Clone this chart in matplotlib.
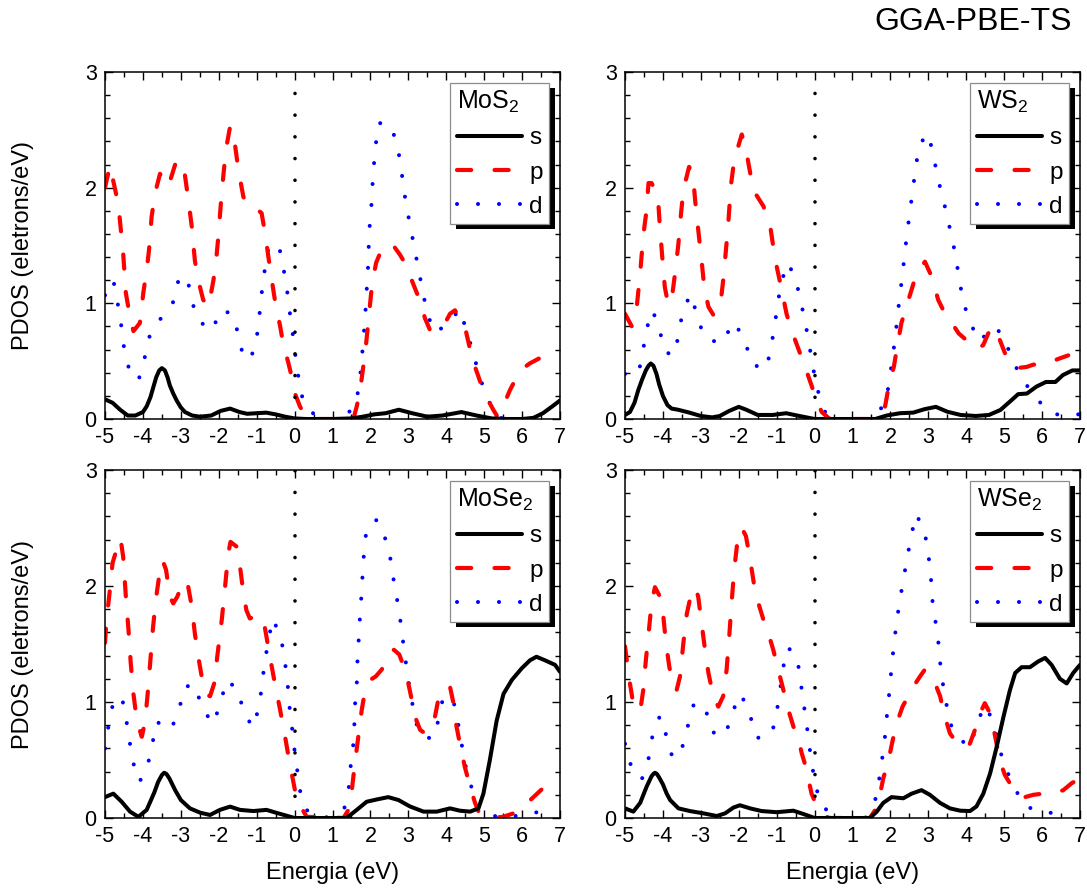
import matplotlib
matplotlib.use("Agg")
import matplotlib.pyplot as plt
import matplotlib.patheffects as pe
from matplotlib.ticker import MultipleLocator

plt.rcParams['font.family'] = ['Liberation Sans', 'DejaVu Sans']
plt.rcParams['mathtext.fontset'] = 'custom'
plt.rcParams['mathtext.rm'] = 'Liberation Sans'
plt.rcParams['mathtext.it'] = 'Liberation Sans:italic'
plt.rcParams['mathtext.default'] = 'regular'
plt.rcParams['axes.unicode_minus'] = False

# ---------------- data: (energy eV, PDOS electrons/eV) ----------------
materials = ['MoS$_2$', 'WS$_2$', 'MoSe$_2$', 'WSe$_2$']
orbitals = ['s', 'p', 'd']
method = 'GGA-PBE-TS'

mos2_s = [(-5.0, 0.17), (-4.8, 0.14), (-4.6, 0.08), (-4.4, 0.03), (-4.2, 0.03), (-4.0, 0.06),
          (-3.9, 0.11), (-3.8, 0.19), (-3.73, 0.27), (-3.65, 0.36), (-3.57, 0.42), (-3.5, 0.44),
          (-3.42, 0.42), (-3.35, 0.36), (-3.29, 0.29), (-3.2, 0.22), (-3.11, 0.16), (-3.0, 0.10),
          (-2.89, 0.06), (-2.7, 0.03), (-2.5, 0.02), (-2.2, 0.03), (-1.95, 0.07),
          (-1.7, 0.09), (-1.45, 0.06), (-1.25, 0.045), (-1.0, 0.05), (-0.75, 0.055), (-0.5, 0.04),
          (-0.25, 0.02), (0.0, 0.005), (0.3, 0.0), (1.0, 0.0), (1.5, 0.005), (1.8, 0.02),
          (2.1, 0.04), (2.4, 0.05), (2.75, 0.08), (3.1, 0.05), (3.5, 0.02), (3.9, 0.03),
          (4.4, 0.06), (4.8, 0.03), (5.2, 0.005), (5.6, 0.0), (6.0, 0.0), (6.3, 0.01),
          (6.55, 0.05), (6.8, 0.11), (7.0, 0.16)]
mos2_p = [(-5.0, 2.0), (-4.87, 2.19), (-4.65, 1.86), (-4.52, 1.43), (-4.45, 1.09), (-4.34, 0.88),
          (-4.25, 0.76), (-4.08, 0.83), (-3.99, 1.09), (-3.9, 1.29), (-3.84, 1.46), (-3.77, 1.75),
          (-3.68, 1.95), (-3.55, 2.12), (-3.42, 2.07), (-3.33, 2.01), (-3.15, 2.2), (-3.02, 2.24),
          (-2.91, 2.15), (-2.8, 1.89), (-2.71, 1.66), (-2.63, 1.37), (-2.54, 1.20), (-2.41, 1.03),
          (-2.27, 0.97), (-2.14, 1.2), (-2.07, 1.37), (-2.01, 1.58), (-1.95, 1.84), (-1.88, 2.10),
          (-1.81, 2.33), (-1.70, 2.53), (-1.60, 2.44), (-1.48, 2.15), (-1.35, 1.92), (-1.22, 1.84),
          (-1.09, 1.84), (-0.87, 1.78), (-0.78, 1.61), (-0.69, 1.40), (-0.60, 1.2), (-0.52, 1.03),
          (-0.38, 0.80), (-0.30, 0.65), (-0.16, 0.48), (-0.08, 0.37), (0.01, 0.22), (0.14, 0.11),
          (0.32, 0.0), (1.55, 0.0), (1.64, 0.11), (1.73, 0.25), (1.81, 0.45), (1.88, 0.63),
          (1.95, 0.86), (2.02, 1.09), (2.08, 1.23), (2.15, 1.35), (2.25, 1.43), (2.38, 1.48),
          (2.56, 1.52), (2.78, 1.42), (2.96, 1.32), (3.09, 1.2), (3.26, 1.06), (3.35, 0.97),
          (3.44, 0.87), (3.57, 0.77), (3.70, 0.76), (3.92, 0.80), (4.10, 0.91), (4.23, 0.94),
          (4.36, 0.87), (4.49, 0.8), (4.63, 0.60), (4.76, 0.45), (4.93, 0.29), (5.11, 0.16),
          (5.24, 0.08), (5.35, 0.02), (5.50, 0.11), (5.68, 0.25), (5.95, 0.42), (6.20, 0.48),
          (6.60, 0.55)]
mos2_d = [(-5.0, 1.07), (-4.78, 1.20), (-4.67, 1.01), (-4.58, 0.83), (-4.51, 0.64), (-4.38, 0.45),
          (-4.12, 0.33), (-3.96, 0.52), (-3.83, 0.71), (-3.55, 0.86), (-3.22, 0.99), (-3.09, 1.18),
          (-2.85, 1.24), (-2.72, 1.05), (-2.59, 0.87), (-2.20, 0.76), (-1.91, 0.95), (-1.60, 0.89),
          (-1.47, 0.70), (-1.33, 0.51), (-1.06, 0.58), (-0.97, 0.77), (-0.91, 0.95), (-0.85, 1.14),
          (-0.77, 1.33), (-0.67, 1.52), (-0.38, 1.45), (-0.27, 1.26), (-0.18, 1.07), (-0.11, 0.88),
          (-0.03, 0.69), (0.04, 0.50), (0.12, 0.32), (0.24, 0.13), (0.64, 0.0), (1.26, 0.0),
          (1.61, 0.12), (1.71, 0.31), (1.77, 0.50), (1.81, 0.68), (1.86, 0.87), (1.89, 1.06),
          (1.93, 1.25), (1.95, 1.44), (1.97, 1.63), (2.02, 1.81), (2.05, 2.00), (2.09, 2.19),
          (2.14, 2.37), (2.22, 2.56), (2.54, 2.54), (2.72, 2.35), (2.81, 2.17), (2.88, 1.98),
          (2.98, 1.79), (3.09, 1.60), (3.20, 1.41), (3.26, 1.31), (3.37, 1.12), (3.48, 0.94),
          (3.67, 0.75), (4.03, 0.81), (4.35, 0.95), (4.54, 0.76), (4.71, 0.57), (4.86, 0.39),
          (5.05, 0.20), (5.35, 0.01), (5.95, 0.0), (6.52, 0.0)]

ws2_s = [(-5.0, 0.035), (-4.87, 0.06), (-4.75, 0.14), (-4.65, 0.25), (-4.55, 0.34), (-4.45, 0.42),
         (-4.38, 0.46), (-4.32, 0.48), (-4.25, 0.46), (-4.17, 0.39), (-4.1, 0.30), (-4.0, 0.2),
         (-3.88, 0.12), (-3.77, 0.09), (-3.6, 0.08),
         (-3.3, 0.055), (-3.0, 0.026), (-2.7, 0.014), (-2.5, 0.026), (-2.25, 0.07), (-2.0, 0.105),
         (-1.8, 0.08), (-1.5, 0.035), (-1.1, 0.035), (-0.75, 0.05), (-0.4, 0.026), (0.0, 0.0),
         (0.5, 0.0), (1.0, 0.0), (1.6, 0.0), (1.9, 0.03), (2.25, 0.05), (2.6, 0.055), (2.9, 0.085),
         (3.2, 0.105), (3.5, 0.063), (3.85, 0.035), (4.25, 0.026), (4.6, 0.035), (4.9, 0.078),
         (5.15, 0.15), (5.37, 0.215), (5.6, 0.22), (5.85, 0.28), (6.1, 0.32), (6.35, 0.32),
         (6.55, 0.38), (6.8, 0.42), (7.0, 0.42)]
ws2_p = [(-5.0, 0.91), (-4.82, 0.80), (-4.69, 0.97), (-4.6, 1.26), (-4.52, 1.58), (-4.43, 1.81),
         (-4.38, 2.04), (-4.30, 2.04), (-4.16, 1.95), (-4.12, 1.86), (-4.08, 1.66), (-4.01, 1.37),
         (-3.95, 1.14), (-3.86, 0.99), (-3.77, 1.03), (-3.68, 1.26), (-3.59, 1.52), (-3.53, 1.75),
         (-3.46, 1.98), (-3.31, 2.18), (-3.21, 2.12), (-3.15, 1.89), (-3.07, 1.64), (-2.98, 1.37),
         (-2.91, 1.14), (-2.80, 0.97), (-2.67, 0.90), (-2.49, 0.97), (-2.40, 1.23), (-2.33, 1.49),
         (-2.27, 1.72), (-2.21, 2.01), (-2.12, 2.24), (-1.92, 2.46), (-1.81, 2.33), (-1.70, 2.13),
         (-1.62, 1.98), (-1.35, 1.84), (-1.18, 1.69), (-1.09, 1.49), (-1.0, 1.32), (-0.87, 1.12),
         (-0.74, 0.91), (-0.60, 0.76), (-0.42, 0.60), (-0.25, 0.45), (-0.08, 0.29), (0.05, 0.16),
         (0.19, 0.06), (0.4, 0.0), (1.64, 0.0), (1.74, 0.035), (1.86, 0.11), (1.97, 0.31),
         (2.09, 0.45), (2.18, 0.63), (2.29, 0.83), (2.42, 0.97), (2.56, 1.12), (2.69, 1.26),
         (2.91, 1.36), (3.09, 1.23), (3.26, 1.03), (3.44, 0.91), (3.62, 0.83), (3.80, 0.74),
         (4.01, 0.68), (4.27, 0.60), (4.45, 0.64), (4.58, 0.74), (4.71, 0.80), (4.89, 0.68),
         (5.02, 0.57), (5.15, 0.48), (5.33, 0.44), (5.59, 0.45), (5.77, 0.47), (6.12, 0.48),
         (6.43, 0.52), (6.69, 0.55)]
ws2_d = [(-5.0, 0.39), (-4.65, 0.39), (-4.53, 0.57), (-4.45, 0.76), (-4.27, 0.94), (-4.08, 0.76),
         (-3.95, 0.58), (-3.70, 0.55), (-3.58, 0.74), (-3.48, 0.93), (-3.27, 1.08), (-3.09, 0.89),
         (-2.92, 0.71), (-2.48, 0.65), (-2.11, 0.84), (-1.83, 0.66), (-1.63, 0.47), (-1.28, 0.43),
         (-1.15, 0.61), (-1.06, 0.80), (-0.97, 0.99), (-0.89, 1.18), (-0.69, 1.35), (-0.47, 1.17),
         (-0.34, 0.98), (-0.22, 0.79), (-0.12, 0.60), (-0.02, 0.41), (0.10, 0.23), (0.30, 0.04),
         (0.67, 0.0), (1.46, 0.0), (1.84, 0.12), (1.97, 0.31), (2.04, 0.50), (2.12, 0.68),
         (2.18, 0.87), (2.25, 1.07), (2.32, 1.25), (2.38, 1.44), (2.45, 1.63), (2.52, 1.81),
         (2.60, 2.00), (2.67, 2.19), (2.78, 2.38), (3.0, 2.47), (3.13, 2.28), (3.25, 2.09),
         (3.38, 1.90), (3.47, 1.80), (3.59, 1.61), (3.71, 1.43), (3.80, 1.24), (3.90, 1.05),
         (4.06, 0.86), (4.35, 0.67), (4.71, 0.80), (5.0, 0.72), (5.18, 0.53), (5.49, 0.34),
         (5.88, 0.16), (6.37, 0.04), (7.0, 0.04)]

mose2_s = [(-5.0, 0.18), (-4.78, 0.21), (-4.56, 0.14), (-4.34, 0.055), (-4.12, 0.01), (-3.9, 0.07),
           (-3.7, 0.22), (-3.6, 0.31), (-3.5, 0.37), (-3.44, 0.39), (-3.38, 0.38), (-3.3, 0.34),
           (-3.15, 0.24), (-3.0, 0.155),
           (-2.76, 0.083), (-2.49, 0.046), (-2.23, 0.026), (-1.97, 0.07), (-1.70, 0.098),
           (-1.44, 0.07), (-1.09, 0.06), (-0.74, 0.07), (-0.43, 0.04), (0.0, 0.0), (0.5, 0.0),
           (1.0, 0.0), (1.37, 0.0), (1.64, 0.07), (1.90, 0.14), (2.17, 0.16), (2.47, 0.18),
           (2.74, 0.155), (3.04, 0.10), (3.40, 0.055), (3.75, 0.055), (4.10, 0.083), (4.36, 0.063),
           (4.63, 0.055), (4.85, 0.083), (4.98, 0.21), (5.15, 0.5), (5.33, 0.84), (5.51, 1.07),
           (5.73, 1.19), (5.99, 1.29), (6.21, 1.36), (6.38, 1.39), (6.6, 1.36), (6.87, 1.32),
           (7.0, 1.26)]
mose2_p = [(-5.0, 1.51), (-4.96, 1.71), (-4.89, 1.91), (-4.80, 2.2), (-4.67, 2.34), (-4.59, 2.41),
           (-4.52, 2.25), (-4.45, 1.91), (-4.38, 1.62), (-4.32, 1.33), (-4.25, 1.07), (-4.16, 0.84),
           (-4.03, 0.70), (-3.95, 0.82), (-3.88, 1.05), (-3.81, 1.33), (-3.74, 1.62), (-3.66, 1.88),
           (-3.57, 2.09), (-3.48, 2.22), (-3.39, 2.14), (-3.29, 1.91), (-3.20, 1.85), (-3.09, 1.91),
           (-2.93, 2.05), (-2.82, 2.02), (-2.71, 1.82), (-2.63, 1.59), (-2.54, 1.39), (-2.45, 1.22),
           (-2.32, 1.06), (-2.23, 1.05), (-2.12, 1.16), (-2.04, 1.39), (-1.92, 1.71), (-1.84, 1.97),
           (-1.75, 2.28), (-1.69, 2.38), (-1.53, 2.34), (-1.44, 2.17), (-1.35, 1.94), (-1.27, 1.79),
           (-1.18, 1.72), (-0.96, 1.75), (-0.82, 1.71), (-0.74, 1.56), (-0.65, 1.39), (-0.52, 1.16),
           (-0.38, 0.93), (-0.25, 0.70), (-0.16, 0.53), (-0.08, 0.39), (0.01, 0.24), (0.14, 0.11),
           (0.32, 0.01), (1.29, 0.0), (1.42, 0.07), (1.51, 0.24), (1.59, 0.47), (1.68, 0.70),
           (1.77, 0.93), (1.86, 1.10), (1.99, 1.19), (2.14, 1.22), (2.30, 1.28), (2.47, 1.42),
           (2.62, 1.45), (2.76, 1.41), (2.91, 1.28), (3.00, 1.16), (3.09, 1.02), (3.18, 0.87),
           (3.31, 0.76), (3.44, 0.73), (3.59, 0.76), (3.70, 0.87), (3.79, 1.02), (3.92, 1.12),
           (4.10, 1.13), (4.19, 0.99), (4.27, 0.79), (4.36, 0.64), (4.49, 0.44), (4.63, 0.27),
           (4.76, 0.13), (4.87, 0.04), (5.15, 0.0), (5.5, 0.01), (5.77, 0.04), (6.03, 0.1),
           (6.30, 0.18), (6.56, 0.26), (6.82, 0.30), (6.9, 0.31)]
mose2_d = [(-5.0, 0.60), (-4.91, 0.79), (-4.80, 0.97), (-4.56, 1.05), (-4.45, 0.87), (-4.36, 0.68),
           (-4.27, 0.49), (-4.09, 0.31), (-3.87, 0.46), (-3.75, 0.64), (-3.64, 0.83), (-3.26, 0.76),
           (-3.04, 0.94), (-2.91, 1.13), (-2.62, 1.15), (-2.45, 0.95), (-2.14, 0.81), (-1.95, 1.0),
           (-1.79, 1.19), (-1.48, 1.10), (-1.35, 0.91), (-1.09, 0.78), (-0.93, 0.97), (-0.86, 1.15),
           (-0.79, 1.34), (-0.69, 1.53), (-0.58, 1.72), (-0.36, 1.56), (-0.27, 1.38), (-0.19, 1.19),
           (-0.15, 1.0), (-0.08, 0.82), (-0.02, 0.63), (0.06, 0.44), (0.13, 0.25), (0.30, 0.07),
           (0.8, 0.0), (1.31, 0.08), (1.43, 0.26), (1.48, 0.45), (1.55, 0.64), (1.58, 0.83),
           (1.60, 1.02), (1.65, 1.20), (1.66, 1.39), (1.70, 1.58), (1.73, 1.77), (1.77, 1.95),
           (1.80, 2.14), (1.84, 2.33), (1.91, 2.52), (2.17, 2.57), (2.43, 2.38), (2.55, 2.20),
           (2.63, 2.01), (2.74, 1.82), (2.82, 1.63), (2.88, 1.47), (2.96, 1.28), (3.04, 1.10),
           (3.15, 0.91), (3.28, 0.72), (3.64, 0.68), (3.82, 0.87), (3.92, 1.05), (4.19, 1.01),
           (4.31, 0.82), (4.41, 0.63), (4.51, 0.45), (4.67, 0.26), (4.86, 0.07), (5.42, 0.0),
           (6.02, 0.026), (6.56, 0.06)]

wse2_s = [(-5.0, 0.083), (-4.78, 0.055), (-4.6, 0.13), (-4.43, 0.27), (-4.3, 0.36), (-4.25, 0.38),
          (-4.21, 0.39), (-4.16, 0.38), (-4.1, 0.35), (-4.0, 0.29), (-3.9, 0.21), (-3.81, 0.155),
          (-3.59, 0.083), (-3.29, 0.06), (-2.93, 0.04),
          (-2.58, 0.017), (-2.36, 0.04), (-2.14, 0.09), (-1.97, 0.11), (-1.70, 0.083), (-1.40, 0.06),
          (-1.0, 0.05), (-0.56, 0.063), (-0.30, 0.035), (0.0, 0.0), (0.5, 0.0), (1.0, 0.0),
          (1.46, 0.0), (1.64, 0.055), (1.81, 0.13), (2.03, 0.18), (2.34, 0.17), (2.56, 0.21),
          (2.82, 0.24), (3.04, 0.20), (3.31, 0.13), (3.57, 0.083), (3.84, 0.063), (4.10, 0.06),
          (4.27, 0.1), (4.45, 0.21), (4.63, 0.385), (4.80, 0.61), (4.98, 0.87), (5.15, 1.10),
          (5.29, 1.25), (5.46, 1.30), (5.68, 1.30), (5.90, 1.35), (6.08, 1.38), (6.25, 1.32),
          (6.47, 1.20), (6.65, 1.16), (6.82, 1.25), (7.0, 1.32)]
wse2_p = [(-5.0, 1.48), (-4.94, 1.33), (-4.87, 1.16), (-4.80, 1.02), (-4.6, 0.92), (-4.52, 1.10),
          (-4.45, 1.36), (-4.36, 1.65), (-4.30, 1.85), (-4.21, 1.99), (-4.08, 1.91), (-3.99, 1.74),
          (-3.92, 1.51), (-3.83, 1.30), (-3.73, 1.16), (-3.64, 1.10), (-3.55, 1.22), (-3.46, 1.51),
          (-3.37, 1.76), (-3.29, 1.88), (-3.15, 1.99), (-3.07, 1.91), (-2.98, 1.68), (-2.89, 1.45),
          (-2.80, 1.25), (-2.67, 1.05), (-2.54, 0.96), (-2.41, 1.05), (-2.32, 1.28), (-2.25, 1.57),
          (-2.19, 1.85), (-2.12, 2.14), (-2.04, 2.37), (-1.92, 2.50), (-1.81, 2.43), (-1.70, 2.23),
          (-1.60, 2.02), (-1.48, 1.85), (-1.35, 1.71), (-1.19, 1.56), (-1.09, 1.45), (-0.96, 1.28),
          (-0.82, 1.10), (-0.69, 0.93), (-0.56, 0.79), (-0.42, 0.67), (-0.34, 0.56), (-0.25, 0.46),
          (-0.16, 0.33), (-0.08, 0.21), (0.05, 0.11), (0.23, 0.02), (0.4, 0.0), (1.46, 0.0),
          (1.6, 0.07), (1.73, 0.21), (1.81, 0.34), (1.95, 0.5), (2.06, 0.67), (2.17, 0.82),
          (2.32, 0.96), (2.47, 1.05), (2.60, 1.13), (2.78, 1.22), (2.91, 1.28), (3.04, 1.24),
          (3.18, 1.16), (3.31, 1.05), (3.44, 0.87), (3.57, 0.73), (3.70, 0.67), (3.88, 0.64),
          (4.06, 0.61), (4.23, 0.76), (4.36, 0.90), (4.49, 0.99), (4.63, 0.90), (4.71, 0.79),
          (4.80, 0.64), (4.89, 0.49), (5.02, 0.37), (5.15, 0.30), (5.33, 0.21), (5.55, 0.18),
          (5.77, 0.20), (6.03, 0.21), (6.30, 0.21), (6.56, 0.24), (6.78, 0.30), (7.0, 0.34)]
wse2_d = [(-5.0, 0.64), (-4.85, 0.46), (-4.56, 0.33), (-4.38, 0.51), (-4.28, 0.70), (-4.08, 0.88),
          (-3.90, 0.70), (-3.74, 0.51), (-3.46, 0.63), (-3.33, 0.81), (-3.17, 1.0), (-2.86, 0.92),
          (-2.70, 0.74), (-2.35, 0.71), (-2.19, 0.90), (-1.94, 1.07), (-1.70, 0.88), (-1.51, 0.69),
          (-1.13, 0.72), (-1.0, 0.91), (-0.91, 1.10), (-0.84, 1.28), (-0.71, 1.47), (-0.47, 1.40),
          (-0.38, 1.21), (-0.31, 1.03), (-0.22, 0.84), (-0.15, 0.65), (-0.07, 0.46), (0.03, 0.27),
          (0.21, 0.09), (0.75, 0.0), (1.34, 0.0), (1.63, 0.18), (1.72, 0.37), (1.80, 0.55),
          (1.87, 0.74), (1.92, 0.93), (1.98, 1.11), (2.03, 1.30), (2.09, 1.49), (2.16, 1.68),
          (2.24, 1.86), (2.34, 2.05), (2.44, 2.24), (2.55, 2.43), (2.67, 2.62), (2.89, 2.49),
          (2.99, 2.30), (3.06, 2.11), (3.11, 1.87), (3.19, 1.69), (3.27, 1.50), (3.32, 1.31),
          (3.40, 1.12), (3.50, 0.94), (3.64, 0.75), (4.06, 0.61), (4.29, 0.79), (4.45, 0.97),
          (4.71, 0.85), (4.82, 0.67), (4.98, 0.48), (5.22, 0.29), (5.55, 0.10), (6.10, 0.046),
          (6.69, 0.04)]

panels = [(mos2_s, mos2_p, mos2_d), (ws2_s, ws2_p, ws2_d),
          (mose2_s, mose2_p, mose2_d), (wse2_s, wse2_p, wse2_d)]

x_ticks = list(range(-5, 8))
y_ticks = [0, 1, 2, 3]

# ---------------- figure ----------------
W, H = 1087, 896
fig = plt.figure(figsize=(W / 100, H / 100), dpi=100)

def axes_px(left, top, right, bottom):
    return fig.add_axes([left / W, 1 - bottom / H, (right - left) / W, (bottom - top) / H])

frames = [(105, 72, 560, 419), (625, 72, 1080, 419),
          (105, 470, 560, 818), (625, 470, 1080, 818)]

styles = {
    's': dict(color='black', lw=2.9, solid_capstyle='round', solid_joinstyle='round'),
    'p': dict(color='#ff0000', lw=3.0, ls=(0, (3.4, 5.6)), dash_capstyle='round'),
    'd': dict(color='#0000ff', lw=2.9, ls=(0, (0.01, 5.2)), dash_capstyle='round'),
}

for i, (frame, name, curves) in enumerate(zip(frames, materials, panels)):
    ax = axes_px(*frame)
    handles = {}
    for orb, data in zip(['d', 'p', 's'], curves[::-1]):
        e = [pt[0] for pt in data]
        v = [pt[1] for pt in data]
        handles[orb], = ax.plot(e, v, label=orb, **styles[orb])
    # Fermi level
    ax.axvline(0, color='black', lw=2.6, ls=(0, (0.01, 6.0)), dash_capstyle='round', zorder=5)

    ax.set_xlim(-5, 7)
    ax.set_ylim(0, 3)
    ax.set_xticks(x_ticks)
    ax.set_yticks(y_ticks)
    ax.xaxis.set_minor_locator(MultipleLocator(0.5))
    ax.yaxis.set_minor_locator(MultipleLocator(0.2))
    ax.tick_params(which='both', direction='in', top=True, right=True,
                   labelsize=15.5, pad=6, colors='black')
    ax.tick_params(which='major', length=6, width=1.0)
    ax.tick_params(which='minor', length=3.5, width=1.0)
    for sp in ax.spines.values():
        sp.set_linewidth(1.1)

    if i % 2 == 0:
        ax.set_ylabel('PDOS (eletrons/eV)', fontsize=17)
        ax.yaxis.set_label_coords(-0.155, 0.5)
    if i >= 2:
        ax.set_xlabel('Energia (eV)', fontsize=17)
        ax.xaxis.set_label_coords(0.5, -0.125)

    leg = ax.legend([handles[o] for o in orbitals], orbitals, title=name,
                    loc='upper right', fontsize=17.5, title_fontsize=18,
                    frameon=True, fancybox=False, edgecolor='#8c8c8c', framealpha=1,
                    handlelength=2.7, handletextpad=0.3, labelspacing=0.5,
                    borderpad=0.25, borderaxespad=0.45, alignment='left')
    leg.get_frame().set_linewidth(0.9)
    leg.get_frame().set_path_effects([
        pe.SimplePatchShadow(offset=(4.0, -4.0), shadow_rgbFace='black', alpha=1.0),
        pe.Normal()])

fig.text(1072 / W, 1 - 22 / H, method, ha='right', va='center', fontsize=23)

fig.savefig('out.png', dpi=100)
